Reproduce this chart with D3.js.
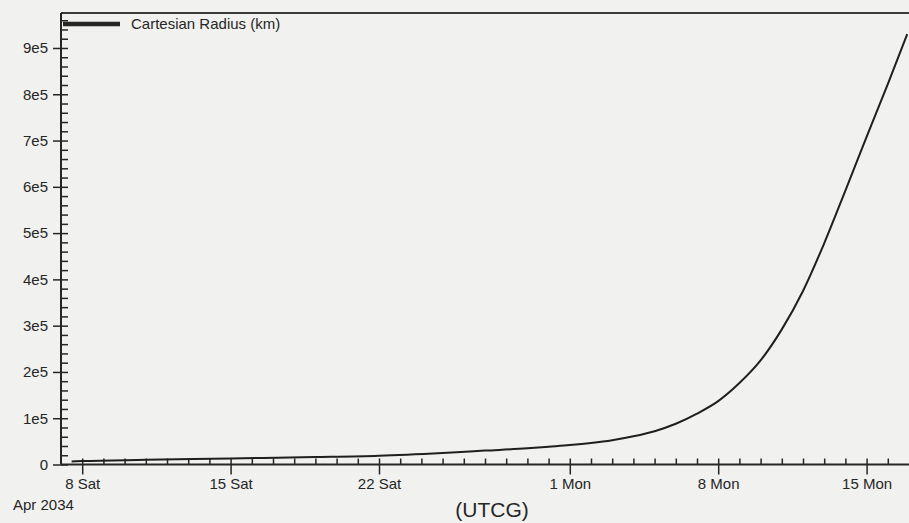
<!DOCTYPE html>
<html>
<head>
<meta charset="utf-8">
<script src="https://cdn.jsdelivr.net/npm/d3@7"></script>
<style>
  html, body { margin: 0; padding: 0; background: #f1f1ef; }
  svg { display: block; font-family: "Liberation Sans", Arial, sans-serif; }
</style>
</head>
<body>
<svg id="chart" width="909" height="523"></svg>
<script>
// Sample epochs (UTCG) and the Cartesian radius at each, in km
const epochs = [
  "2034-04-07T12:00", "2034-04-08T00:00", "2034-04-11T00:00", "2034-04-15T00:00",
  "2034-04-19T00:00", "2034-04-22T00:00", "2034-04-25T00:00", "2034-04-27T00:00",
  "2034-04-29T00:00", "2034-04-30T00:00", "2034-05-01T00:00", "2034-05-02T00:00",
  "2034-05-03T00:00", "2034-05-04T00:00", "2034-05-05T00:00", "2034-05-06T00:00",
  "2034-05-07T00:00", "2034-05-08T00:00", "2034-05-09T00:00", "2034-05-10T00:00",
  "2034-05-11T00:00", "2034-05-12T00:00", "2034-05-13T00:00", "2034-05-14T00:00",
  "2034-05-15T00:00", "2034-05-16T00:00", "2034-05-16T22:00"
];
const radiusKm = [
  6700, 7500, 10000, 13000,
  16000, 19000, 25000, 30000,
  35000, 38500, 42000, 46500,
  52500, 61000, 72000, 88000,
  110000, 137000, 176000, 225000,
  292000, 375000, 478000, 592000,
  708000, 822000, 930000
];

// Axis annotations
const seriesName = "Cartesian Radius (km)";
const majorTickDates = ["2034-04-08", "2034-04-15", "2034-04-22", "2034-05-01", "2034-05-08", "2034-05-15"];
const majorTickLabels = ["8 Sat", "15 Sat", "22 Sat", "1 Mon", "8 Mon", "15 Mon"];
const yTickValues = [0, 1e5, 2e5, 3e5, 4e5, 5e5, 6e5, 7e5, 8e5, 9e5];
const yTickLabels = ["0", "1e5", "2e5", "3e5", "4e5", "5e5", "6e5", "7e5", "8e5", "9e5"];
const dateCaption = "Apr 2034";
const axisTitle = "(UTCG)";

const parse = d3.utcParse("%Y-%m-%dT%H:%M");
const parseDay = d3.utcParse("%Y-%m-%d");
const points = epochs.map((e, i) => ({ t: parse(e), r: radiusKm[i] }));

const svg = d3.select("#chart");
const plotLeft = 61, plotRight = 909, plotTop = 13, plotBottom = 464.5;
const ink = "#262626";

const x = d3.scaleUtc()
  .domain([parseDay("2034-04-07"), parseDay("2034-05-17")])
  .range([plotLeft, plotRight]);
const y = d3.scaleLinear()
  .domain([0, 975600])
  .range([plotBottom, plotTop]);

// Top border of the plot frame
svg.append("line").attr("x1", plotLeft).attr("x2", plotRight)
  .attr("y1", plotTop).attr("y2", plotTop)
  .attr("stroke", "#3a3a3a").attr("stroke-width", 2);

// Y axis: minor ticks every 2e4 inside, major ticks every 1e5 on both sides
const yMinor = d3.range(0, 975600, 20000).filter(v => v % 100000 !== 0);
const yAxisMinor = d3.axisRight(y).tickValues(yMinor).tickSize(7).tickFormat("");
const gyMinor = svg.append("g").attr("transform", `translate(${plotLeft},0)`).call(yAxisMinor);
gyMinor.select(".domain").remove();

const yAxis = d3.axisLeft(y).tickValues(yTickValues).tickSize(8)
  .tickFormat((d, i) => yTickLabels[i]).tickPadding(5);
const gy = svg.append("g").attr("transform", `translate(${plotLeft},0)`).call(yAxis);
gy.select(".domain").attr("d", `M0,${plotTop}V${plotBottom}`);
gy.selectAll(".tick").append("line").attr("x2", 7).attr("stroke", "currentColor");

// X axis: daily minor ticks pointing up, weekly major ticks below
const dayTicks = d3.utcDay.range(parseDay("2034-04-08"), parseDay("2034-05-17"));
const xAxisMinor = d3.axisTop(x).tickValues(dayTicks).tickSize(6).tickFormat("");
const gxMinor = svg.append("g").attr("transform", `translate(0,${plotBottom})`).call(xAxisMinor);
gxMinor.select(".domain").remove();

const xAxis = d3.axisBottom(x).tickValues(majorTickDates.map(parseDay)).tickSize(10)
  .tickFormat((d, i) => majorTickLabels[i]).tickPadding(4);
const gx = svg.append("g").attr("transform", `translate(0,${plotBottom})`).call(xAxis);
gx.select(".domain").attr("d", `M${plotLeft},0H${plotRight}`);

[gy, gyMinor, gx, gxMinor].forEach(g => {
  g.attr("color", ink);
  g.selectAll("line, path").attr("stroke-width", 1.5);
  g.selectAll("text").attr("font-size", 15).attr("fill", ink)
    .attr("font-family", "'Liberation Sans', Arial, sans-serif");
});
gy.select(".domain").attr("stroke-width", 2);
gx.select(".domain").attr("stroke-width", 2);

// Radius curve
const line = d3.line().x(d => x(d.t)).y(d => y(d.r)).curve(d3.curveMonotoneX);
svg.append("path").datum(points)
  .attr("fill", "none").attr("stroke", "#1f1f1f").attr("stroke-width", 2)
  .attr("d", line);

// Legend
svg.append("line").attr("x1", 63).attr("x2", 120).attr("y1", 24).attr("y2", 24)
  .attr("stroke", ink).attr("stroke-width", 4.5);
svg.append("text").attr("x", 131).attr("y", 29).attr("font-size", 15).attr("fill", ink)
  .text(seriesName);

// Date caption and axis title
svg.append("text").attr("x", 13).attr("y", 510).attr("font-size", 15).attr("fill", ink)
  .text(dateCaption);
svg.append("text").attr("x", 492).attr("y", 517).attr("text-anchor", "middle")
  .attr("font-size", 21).attr("fill", ink).text(axisTitle);
</script>
</body>
</html>
